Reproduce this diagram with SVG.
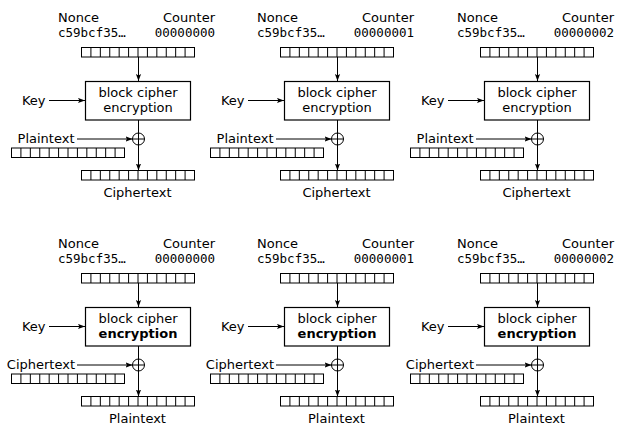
<svg xmlns="http://www.w3.org/2000/svg" xmlns:xlink="http://www.w3.org/1999/xlink" width="617" height="428" viewBox="0 0 617 428">
<style>
.t{font-family:"DejaVu Sans","Noto Sans",sans-serif;font-size:13px;fill:#000}
.m{font-family:"DejaVu Sans Mono","Liberation Mono",monospace;font-size:12.5px;fill:#000}
.e{text-anchor:end}
.c{text-anchor:middle}
.b{font-weight:bold}
.ln{stroke:#000;stroke-width:1;fill:none}
.box{stroke:#000;stroke-width:1.2;fill:#fff}
</style>
<defs>
<marker id="ah" markerUnits="userSpaceOnUse" markerWidth="8" markerHeight="6" viewBox="0 -3 8 6" refX="7" refY="0" orient="auto">
<path d="M0,-2.6 L7,0 L0,2.6 L1.4,0 z" fill="#000"/>
</marker>
<g id="reg">
<rect x="0" y="0" width="113" height="9.5" fill="#fff" stroke="#000" stroke-width="1"/>
<path d="M9.42,0V9.5M18.83,0V9.5M28.25,0V9.5M37.67,0V9.5M47.08,0V9.5M56.5,0V9.5M65.92,0V9.5M75.33,0V9.5M84.75,0V9.5M94.17,0V9.5M103.58,0V9.5" stroke="#000" stroke-width="1"/>
</g>
</defs>
<rect width="617" height="428" fill="#fff"/>

<!-- Top row: encryption -->
<g id="enc1">
<g id="enc1-counter"><text class="t" x="58" y="21.5">Nonce</text><text class="m" x="58" y="36.5">c59bcf35…</text><text class="t e" x="215" y="21.5">Counter</text><text class="m e" x="215" y="36.5">00000000</text><use xlink:href="#reg" x="81.5" y="47.5"/></g>
<g id="enc1-cipher"><rect class="box" x="85.5" y="81.5" width="105" height="38.5"/><text class="t c" x="138" y="96.5">block cipher</text><text class="t c" x="138" y="111.5">encryption</text></g>
<g id="enc1-key"><text class="t e" x="45.5" y="104.5">Key</text></g>
<g id="enc1-input"><text class="t e" x="74.5" y="142.5">Plaintext</text><use xlink:href="#reg" x="11.5" y="148"/></g>
<g id="enc1-xor"><circle class="ln" cx="138.5" cy="139" r="6"/><path class="ln" d="M132.5,139H144.5"/></g>
<g id="enc1-output"><use xlink:href="#reg" x="81.5" y="170.5"/><text class="t c" x="137.5" y="196.5">Ciphertext</text></g>
<g id="enc1-connectors"><path class="ln" d="M138.5,57V81" marker-end="url(#ah)"/><path class="ln" d="M49,100.5H85" marker-end="url(#ah)"/><path class="ln" d="M77,139H132.5" marker-end="url(#ah)"/><path class="ln" d="M138.5,120V170.5" marker-end="url(#ah)"/></g>
</g>

<g id="enc2" transform="translate(199,0)">
<g id="enc2-counter"><text class="t" x="58" y="21.5">Nonce</text><text class="m" x="58" y="36.5">c59bcf35…</text><text class="t e" x="215" y="21.5">Counter</text><text class="m e" x="215" y="36.5">00000001</text><use xlink:href="#reg" x="81.5" y="47.5"/></g>
<g id="enc2-cipher"><rect class="box" x="85.5" y="81.5" width="105" height="38.5"/><text class="t c" x="138" y="96.5">block cipher</text><text class="t c" x="138" y="111.5">encryption</text></g>
<g id="enc2-key"><text class="t e" x="45.5" y="104.5">Key</text></g>
<g id="enc2-input"><text class="t e" x="74.5" y="142.5">Plaintext</text><use xlink:href="#reg" x="11.5" y="148"/></g>
<g id="enc2-xor"><circle class="ln" cx="138.5" cy="139" r="6"/><path class="ln" d="M132.5,139H144.5"/></g>
<g id="enc2-output"><use xlink:href="#reg" x="81.5" y="170.5"/><text class="t c" x="137.5" y="196.5">Ciphertext</text></g>
<g id="enc2-connectors"><path class="ln" d="M138.5,57V81" marker-end="url(#ah)"/><path class="ln" d="M49,100.5H85" marker-end="url(#ah)"/><path class="ln" d="M77,139H132.5" marker-end="url(#ah)"/><path class="ln" d="M138.5,120V170.5" marker-end="url(#ah)"/></g>
</g>

<g id="enc3" transform="translate(399,0)">
<g id="enc3-counter"><text class="t" x="58" y="21.5">Nonce</text><text class="m" x="58" y="36.5">c59bcf35…</text><text class="t e" x="215" y="21.5">Counter</text><text class="m e" x="215" y="36.5">00000002</text><use xlink:href="#reg" x="81.5" y="47.5"/></g>
<g id="enc3-cipher"><rect class="box" x="85.5" y="81.5" width="105" height="38.5"/><text class="t c" x="138" y="96.5">block cipher</text><text class="t c" x="138" y="111.5">encryption</text></g>
<g id="enc3-key"><text class="t e" x="45.5" y="104.5">Key</text></g>
<g id="enc3-input"><text class="t e" x="74.5" y="142.5">Plaintext</text><use xlink:href="#reg" x="11.5" y="148"/></g>
<g id="enc3-xor"><circle class="ln" cx="138.5" cy="139" r="6"/><path class="ln" d="M132.5,139H144.5"/></g>
<g id="enc3-output"><use xlink:href="#reg" x="81.5" y="170.5"/><text class="t c" x="137.5" y="196.5">Ciphertext</text></g>
<g id="enc3-connectors"><path class="ln" d="M138.5,57V81" marker-end="url(#ah)"/><path class="ln" d="M49,100.5H85" marker-end="url(#ah)"/><path class="ln" d="M77,139H132.5" marker-end="url(#ah)"/><path class="ln" d="M138.5,120V170.5" marker-end="url(#ah)"/></g>
</g>

<!-- Bottom row: decryption -->
<g id="dec1" transform="translate(0,226)">
<g id="dec1-counter"><text class="t" x="58" y="21.5">Nonce</text><text class="m" x="58" y="36.5">c59bcf35…</text><text class="t e" x="215" y="21.5">Counter</text><text class="m e" x="215" y="36.5">00000000</text><use xlink:href="#reg" x="81.5" y="47.5"/></g>
<g id="dec1-cipher"><rect class="box" x="85.5" y="81.5" width="105" height="38.5"/><text class="t c" x="138" y="96.5">block cipher</text><text class="t c b" x="138" y="111.5">encryption</text></g>
<g id="dec1-key"><text class="t e" x="45.5" y="104.5">Key</text></g>
<g id="dec1-input"><text class="t e" x="75" y="142.5">Ciphertext</text><use xlink:href="#reg" x="11.5" y="148"/></g>
<g id="dec1-xor"><circle class="ln" cx="138.5" cy="139" r="6"/><path class="ln" d="M132.5,139H144.5"/></g>
<g id="dec1-output"><use xlink:href="#reg" x="81.5" y="170.5"/><text class="t c" x="137.5" y="196.5">Plaintext</text></g>
<g id="dec1-connectors"><path class="ln" d="M138.5,57V81" marker-end="url(#ah)"/><path class="ln" d="M49,100.5H85" marker-end="url(#ah)"/><path class="ln" d="M77,139H132.5" marker-end="url(#ah)"/><path class="ln" d="M138.5,120V170.5" marker-end="url(#ah)"/></g>
</g>

<g id="dec2" transform="translate(199,226)">
<g id="dec2-counter"><text class="t" x="58" y="21.5">Nonce</text><text class="m" x="58" y="36.5">c59bcf35…</text><text class="t e" x="215" y="21.5">Counter</text><text class="m e" x="215" y="36.5">00000001</text><use xlink:href="#reg" x="81.5" y="47.5"/></g>
<g id="dec2-cipher"><rect class="box" x="85.5" y="81.5" width="105" height="38.5"/><text class="t c" x="138" y="96.5">block cipher</text><text class="t c b" x="138" y="111.5">encryption</text></g>
<g id="dec2-key"><text class="t e" x="45.5" y="104.5">Key</text></g>
<g id="dec2-input"><text class="t e" x="75" y="142.5">Ciphertext</text><use xlink:href="#reg" x="11.5" y="148"/></g>
<g id="dec2-xor"><circle class="ln" cx="138.5" cy="139" r="6"/><path class="ln" d="M132.5,139H144.5"/></g>
<g id="dec2-output"><use xlink:href="#reg" x="81.5" y="170.5"/><text class="t c" x="137.5" y="196.5">Plaintext</text></g>
<g id="dec2-connectors"><path class="ln" d="M138.5,57V81" marker-end="url(#ah)"/><path class="ln" d="M49,100.5H85" marker-end="url(#ah)"/><path class="ln" d="M77,139H132.5" marker-end="url(#ah)"/><path class="ln" d="M138.5,120V170.5" marker-end="url(#ah)"/></g>
</g>

<g id="dec3" transform="translate(399,226)">
<g id="dec3-counter"><text class="t" x="58" y="21.5">Nonce</text><text class="m" x="58" y="36.5">c59bcf35…</text><text class="t e" x="215" y="21.5">Counter</text><text class="m e" x="215" y="36.5">00000002</text><use xlink:href="#reg" x="81.5" y="47.5"/></g>
<g id="dec3-cipher"><rect class="box" x="85.5" y="81.5" width="105" height="38.5"/><text class="t c" x="138" y="96.5">block cipher</text><text class="t c b" x="138" y="111.5">encryption</text></g>
<g id="dec3-key"><text class="t e" x="45.5" y="104.5">Key</text></g>
<g id="dec3-input"><text class="t e" x="75" y="142.5">Ciphertext</text><use xlink:href="#reg" x="11.5" y="148"/></g>
<g id="dec3-xor"><circle class="ln" cx="138.5" cy="139" r="6"/><path class="ln" d="M132.5,139H144.5"/></g>
<g id="dec3-output"><use xlink:href="#reg" x="81.5" y="170.5"/><text class="t c" x="137.5" y="196.5">Plaintext</text></g>
<g id="dec3-connectors"><path class="ln" d="M138.5,57V81" marker-end="url(#ah)"/><path class="ln" d="M49,100.5H85" marker-end="url(#ah)"/><path class="ln" d="M77,139H132.5" marker-end="url(#ah)"/><path class="ln" d="M138.5,120V170.5" marker-end="url(#ah)"/></g>
</g>
</svg>
